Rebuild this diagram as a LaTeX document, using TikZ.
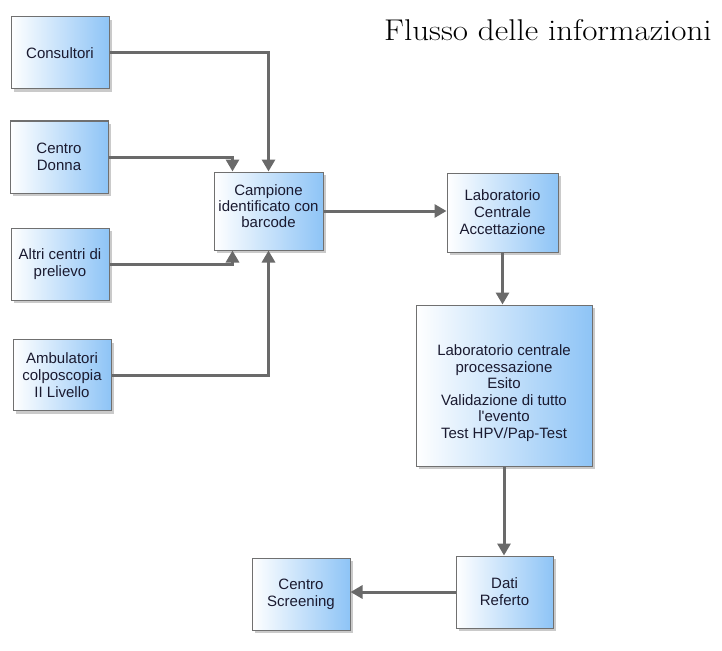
\documentclass[tikz,border=0pt]{standalone}
\usepackage{fontspec}
\setsansfont{Liberation Sans}
\usetikzlibrary{arrows.meta,shadows,calc}
\definecolor{boxblue}{HTML}{8EC4F6}
\definecolor{boxline}{HTML}{707070}
\definecolor{arrowgray}{HTML}{6A6A6A}
\definecolor{txt}{HTML}{1A1A30}
\tikzset{
  box/.style={draw=boxline, line width=1pt, left color=white, right color=boxblue,
    drop shadow={shadow xshift=3pt, shadow yshift=-3pt, fill=black!35, opacity=0.6},
    align=center, font=\sffamily\fontsize{15}{17}\selectfont, text=txt, inner sep=2pt},
  flow/.style={draw=arrowgray, line width=3pt, -{Triangle[width=13pt,length=12pt]}},
}
\begin{document}
\begin{tikzpicture}[x=1pt,y=-1pt]
\useasboundingbox (0,0) rectangle (722,650);
\node[anchor=base west, font=\fontsize{30}{32}\selectfont, text=black, inner sep=0pt] (title) at (384,41) {\scalebox{1.1}[1]{Flusso delle informazioni}};
\node[box, minimum width=98pt, minimum height=72pt] (cons) at (60,53) {Consultori};
\node[box, minimum width=98pt, minimum height=72pt] (donna) at (59,157) {Centro\\Donna};
\node[box, minimum width=98pt, minimum height=72pt] (altri) at (60,264) {Altri centri di\\prelievo};
\node[box, minimum width=98pt, minimum height=71pt] (amb) at (62,375) {Ambulatori\\colposcopia\\II Livello};
\node[box, minimum width=109pt, minimum height=78pt] (camp) at (268.5,211) {};
\node[align=center, font=\sffamily\fontsize{15}{16}\selectfont, text=txt] (campt) at (268.5,206) {Campione\\identificato con\\barcode};
\node[box, minimum width=111pt, minimum height=79pt] (acc) at (502.5,212.5) {Laboratorio\\Centrale\\Accettazione};
\node[box, minimum width=176pt, minimum height=161pt] (lab) at (504,385.5) {};
\node[align=center, font=\sffamily\fontsize{15}{16.5}\selectfont, text=txt] (labt) at (504,393) {Laboratorio centrale\\processazione\\Esito\\Validazione di tutto\\l\textquotesingle evento\\Test HPV/Pap-Test};
\node[box, minimum width=97pt, minimum height=72pt] (dati) at (504.5,592) {Dati\\Referto};
\node[box, minimum width=98pt, minimum height=72pt] (scr) at (301,594) {Centro\\Screening};
\draw[flow] (cons.east) -| (camp.north);
\draw[flow] (donna.east) -| ($(camp.north west)+(19,0)$);
\draw[flow] (altri.east) -| ($(camp.south west)+(19,0)$);
\draw[flow] (amb.east) -| (camp.south);
\draw[flow] (camp.east) -- (camp.east -| acc.west);
\draw[flow] (acc.south) -- (acc.south |- lab.north);
\draw[flow] (lab.south) -- (lab.south |- dati.north);
\draw[flow] (dati.west) -- (dati.west -| scr.east);
\end{tikzpicture}
\end{document}
